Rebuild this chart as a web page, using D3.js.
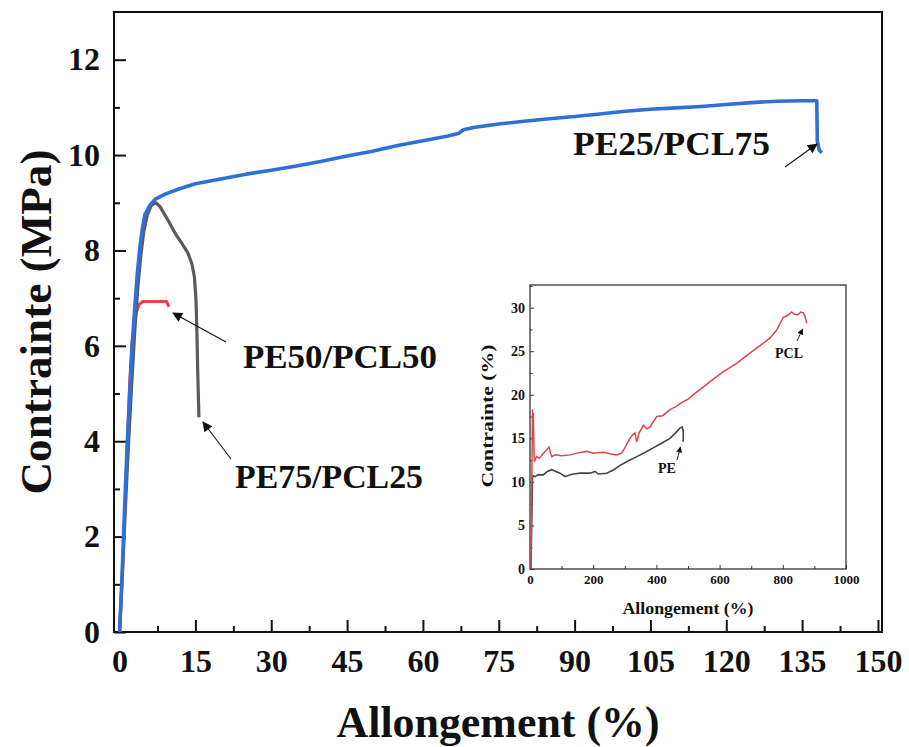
<!DOCTYPE html>
<html><head><meta charset="utf-8">
<script src="https://cdn.jsdelivr.net/npm/d3@7"></script>
<style>body{margin:0;background:#fff}svg{display:block}text{font-family:"Liberation Serif","Times New Roman",serif;font-weight:bold;fill:#111}</style>
</head><body><svg id="c" width="909" height="747"></svg>
<script>
// ---- main chart data (Allongement %, Contrainte MPa)
const xTicks = [0,15,30,45,60,75,90,105,120,135,150];
const yTicks = [0,2,4,6,8,10,12];
const pe25X = [0,0.5,1,1.5,2,2.5,3,3.5,4,4.5,5,6,7,9,12,15,20,25,30,35,40,45,50,55,60,65,67,68,70,75,80,85,90,95,100,105,110,115,120,125,130,135,137.9,138,138.4,138.9];
const pe25Y = [0,1.2,2.6,3.9,5.0,6.0,6.8,7.5,8.05,8.45,8.75,8.95,9.07,9.18,9.3,9.4,9.5,9.6,9.68,9.77,9.87,9.98,10.08,10.2,10.3,10.4,10.45,10.53,10.58,10.65,10.71,10.76,10.81,10.86,10.92,10.96,10.99,11.02,11.06,11.1,11.13,11.14,11.14,10.3,10.1,10.05];
const pe75X = [0,0.6,1.2,1.8,2.4,3,3.6,4.2,4.8,5.5,6.3,7.2,8,9.5,11,12.5,13.5,14.3,14.8,15.1,15.3,15.45,15.6,15.7];
const pe75Y = [0,1.3,2.7,4.0,5.2,6.3,7.2,7.9,8.4,8.75,8.95,9.0,8.92,8.65,8.36,8.12,7.95,7.72,7.45,7.0,6.3,5.5,4.9,4.5];
const pe50X = [0,0.4,0.8,1.2,1.6,2.0,2.4,2.8,3.3,3.9,4.6,6,8,9.3,9.5,9.8];
const pe50Y = [0,0.9,1.9,3.0,4.1,5.2,6.0,6.4,6.7,6.87,6.93,6.93,6.93,6.93,6.88,6.82];
// ---- inset data
const inXTicks = [0,200,400,600,800,1000];
const inYTicks = [0,5,10,15,20,25,30];
const pclX = [3,8,9,10.5,12,13.7,17,21,30,40,53,60,65,69,80,100,127,150,179,200,232,255,274,290,300,316,325,332,338,345,359,370,380,390,401,420,443,460,485,500,520,549,580,610,654,700,730,759,780,802,815,828,838,849,856,865,870,876];
const pclY = [0,18.3,17.2,17.9,14.5,12.3,12.6,12.9,12.7,13.2,13.7,14.0,13.3,12.9,13.1,13.0,13.1,13.3,13.5,13.3,13.4,13.2,13.1,13.3,13.9,15.0,15.4,15.6,14.6,15.6,16.5,16.1,16.3,16.9,17.5,17.6,18.3,18.6,19.2,19.5,20.1,20.9,21.8,22.6,23.6,24.9,25.7,26.5,27.4,28.9,29.1,29.5,29.2,29.2,29.5,29.4,29.0,28.2];
const peX = [3,8,10,15.8,25,42,55,69,82,95,111,125,137,160,190,206,216,243,265,285,310,338,365,390,415,443,460,475,482,485,485];
const peY = [0,10.6,10.7,10.6,10.8,10.8,11.2,11.4,11.2,11.0,10.6,10.8,10.9,11.0,11.0,11.2,10.9,11.0,11.4,11.9,12.4,12.9,13.4,13.9,14.4,15.0,15.6,16.2,16.3,15.8,14.6];

const svg = d3.select("#c");
const defs = svg.append("defs");
defs.append("marker").attr("id","ah").attr("viewBox","0 0 10 10").attr("refX",9).attr("refY",5)
  .attr("markerWidth",14).attr("markerHeight",10).attr("markerUnits","userSpaceOnUse").attr("orient","auto")
  .append("path").attr("d","M0,0 L10,5 L0,10 Z").attr("fill","#111");
defs.append("marker").attr("id","ahs").attr("viewBox","0 0 10 10").attr("refX",9).attr("refY",5)
  .attr("markerWidth",7).attr("markerHeight",6).attr("markerUnits","userSpaceOnUse").attr("orient","auto")
  .append("path").attr("d","M0,0 L10,5 L0,10 Z").attr("fill","#111");

// ---- main scales
const x = d3.scaleLinear().domain([-1.1,150.8]).range([114,882]);
const y = d3.scaleLinear().domain([0,13]).range([632,12]);
const line = d3.line().x(d=>x(d[0])).y(d=>y(d[1]));
const zip = (a,b)=>a.map((v,i)=>[v,b[i]]);

// minor ticks
svg.append("g").attr("transform","translate(0,632)")
  .call(d3.axisBottom(x).tickValues(d3.range(7.5,150,15)).tickSize(-6).tickFormat("").tickSizeOuter(0))
  .call(g=>g.select(".domain").remove()).selectAll("line").attr("stroke","#111").attr("stroke-width",2);
svg.append("g").attr("transform","translate(114,0)")
  .call(d3.axisLeft(y).tickValues(d3.range(1,13,2)).tickSize(-6).tickFormat("").tickSizeOuter(0))
  .call(g=>g.select(".domain").remove()).selectAll("line").attr("stroke","#111").attr("stroke-width",2);
// major axes
const gx = svg.append("g").attr("transform","translate(0,632)")
  .call(d3.axisBottom(x).tickValues(xTicks).tickSize(-12).tickPadding(17).tickSizeOuter(0));
gx.select(".domain").remove();
gx.selectAll("line").attr("stroke","#111").attr("stroke-width",2);
gx.selectAll("text").attr("font-size",32).attr("fill","#111").attr("font-family","Liberation Serif").attr("font-weight","bold");
const gy = svg.append("g").attr("transform","translate(114,0)")
  .call(d3.axisLeft(y).tickValues(yTicks).tickSize(-12).tickPadding(14).tickSizeOuter(0));
gy.select(".domain").remove();
gy.selectAll("line").attr("stroke","#111").attr("stroke-width",2);
gy.selectAll("text").attr("font-size",32).attr("fill","#111").attr("font-family","Liberation Serif").attr("font-weight","bold");
// frame
svg.append("rect").attr("x",114).attr("y",12).attr("width",768).attr("height",620)
  .attr("fill","none").attr("stroke","#111").attr("stroke-width",2);

// curves
svg.append("path").datum(zip(pe50X,pe50Y)).attr("d",line).attr("fill","none").attr("stroke","#e8414b").attr("stroke-width",3).attr("stroke-linejoin","round");
svg.append("path").datum(zip(pe75X,pe75Y)).attr("d",line).attr("fill","none").attr("stroke","#5a5a5a").attr("stroke-width",3.2).attr("stroke-linejoin","round");
svg.append("path").datum(zip(pe25X,pe25Y)).attr("d",line).attr("fill","none").attr("stroke","#2f6fd8").attr("stroke-width",3.6).attr("stroke-linejoin","round");

// axis titles
svg.append("text").attr("x",498).attr("y",737).attr("text-anchor","middle").attr("font-size",44)
  .attr("textLength",323).attr("lengthAdjust","spacingAndGlyphs").text("Allongement (%)");
svg.append("text").attr("transform","translate(51,322) rotate(-90)").attr("text-anchor","middle").attr("font-size",44)
  .attr("textLength",345).attr("lengthAdjust","spacingAndGlyphs").text("Contrainte (MPa)");

// annotations
const ann = [["PE25/PCL75",573,155,197],["PE50/PCL50",243,368,194],["PE75/PCL25",235,488,188]];
ann.forEach(a=>svg.append("text").attr("x",a[1]).attr("y",a[2]).attr("font-size",34)
  .attr("textLength",a[3]).attr("lengthAdjust","spacingAndGlyphs").text(a[0]));
const arrows = [[785,167,817,144],[226,342,173,313],[231,459,203,422]];
arrows.forEach(a=>svg.append("line").attr("x1",a[0]).attr("y1",a[1]).attr("x2",a[2]).attr("y2",a[3])
  .attr("stroke","#111").attr("stroke-width",1.1).attr("marker-end","url(#ah)"));

// ---- inset
const ix = d3.scaleLinear().domain([0,1000]).range([530,846]);
const iy = d3.scaleLinear().domain([0,32.6]).range([569,285]);
const iline = d3.line().x(d=>ix(d[0])).y(d=>iy(d[1]));
svg.append("g").attr("transform","translate(0,569)")
  .call(d3.axisBottom(ix).tickValues(d3.range(100,1000,200)).tickSize(-3).tickFormat("").tickSizeOuter(0))
  .call(g=>g.select(".domain").remove()).selectAll("line").attr("stroke","#333");
svg.append("g").attr("transform","translate(530,0)")
  .call(d3.axisLeft(iy).tickValues(d3.range(2.5,32.6,5)).tickSize(-2.5).tickFormat("").tickSizeOuter(0))
  .call(g=>g.select(".domain").remove()).selectAll("line").attr("stroke","#333");
const igx = svg.append("g").attr("transform","translate(0,569)")
  .call(d3.axisBottom(ix).tickValues(inXTicks).tickFormat(d3.format("d")).tickSize(-4).tickPadding(6).tickSizeOuter(0));
igx.select(".domain").remove();
igx.selectAll("line").attr("stroke","#333");
igx.selectAll("text").attr("font-size",13).attr("fill","#222").attr("font-family","Liberation Serif").attr("font-weight","bold");
const igy = svg.append("g").attr("transform","translate(530,0)")
  .call(d3.axisLeft(iy).tickValues(inYTicks).tickFormat(d3.format("d")).tickSize(-4).tickPadding(5).tickSizeOuter(0));
igy.select(".domain").remove();
igy.selectAll("line").attr("stroke","#333");
igy.selectAll("text").attr("font-size",14).attr("fill","#222").attr("font-family","Liberation Serif").attr("font-weight","bold");
svg.append("rect").attr("x",530).attr("y",285).attr("width",316).attr("height",284)
  .attr("fill","none").attr("stroke","#333").attr("stroke-width",1.3);
svg.append("path").datum(zip(peX,peY)).attr("d",iline).attr("fill","none").attr("stroke","#444").attr("stroke-width",1.6);
svg.append("path").datum(zip(pclX,pclY)).attr("d",iline).attr("fill","none").attr("stroke","#e0454d").attr("stroke-width",1.5);
svg.append("text").attr("x",688).attr("y",614).attr("text-anchor","middle").attr("font-size",16)
  .attr("textLength",131).attr("lengthAdjust","spacingAndGlyphs").text("Allongement (%)");
svg.append("text").attr("transform","translate(493,416) rotate(-90)").attr("text-anchor","middle").attr("font-size",16)
  .attr("textLength",143).attr("lengthAdjust","spacingAndGlyphs").text("Contrainte (%)");
svg.append("text").attr("x",775).attr("y",358).attr("font-size",14).attr("textLength",28).attr("lengthAdjust","spacingAndGlyphs").text("PCL");
svg.append("text").attr("x",658).attr("y",473).attr("font-size",14).attr("textLength",18).attr("lengthAdjust","spacingAndGlyphs").text("PE");
[[797,341,802.5,329],[677,460,680.5,447]].forEach(a=>svg.append("line").attr("x1",a[0]).attr("y1",a[1]).attr("x2",a[2]).attr("y2",a[3])
  .attr("stroke","#111").attr("stroke-width",0.9).attr("marker-end","url(#ahs)"));
</script></body></html>
